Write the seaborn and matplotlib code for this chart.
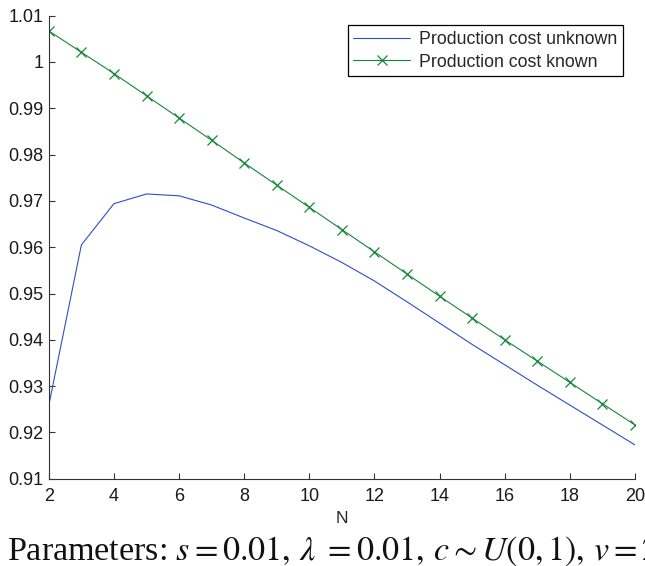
import matplotlib
matplotlib.use("Agg")
import matplotlib.pyplot as plt
import pandas as pd
import seaborn as sns

# Number of firms
N = list(range(2, 21))

# Ratio of expected welfare for the two information regimes
cost_unknown = [0.9259, 0.9605, 0.9694, 0.9715, 0.9711, 0.9691, 0.9663, 0.9636,
                0.9603, 0.9567, 0.9527, 0.9482, 0.9436, 0.9390, 0.9346, 0.9302,
                0.9259, 0.9216, 0.9173]
cost_known = [1.0067, 1.0021, 0.9975, 0.9927, 0.9879, 0.9831, 0.9782, 0.9734,
              0.9686, 0.9638, 0.9590, 0.9542, 0.9494, 0.9447, 0.9400, 0.9354,
              0.9308, 0.9262, 0.9216]

series_labels = ["Production cost unknown", "Production cost known"]
x_ticks = [2, 4, 6, 8, 10, 12, 14, 16, 18, 20]
y_ticks = [0.91, 0.92, 0.93, 0.94, 0.95, 0.96, 0.97, 0.98, 0.99, 1.00, 1.01]
y_tick_labels = ["0.91", "0.92", "0.93", "0.94", "0.95", "0.96", "0.97",
                 "0.98", "0.99", "1", "1.01"]
x_label = "N"
caption = r"Parameters: $s = 0.01,\, \lambda\ = 0.01,\, c \sim U(0,1),\, v = 2$"

sns.set_style("ticks")
plt.rcParams["font.family"] = ["Liberation Sans", "DejaVu Sans"]
plt.rcParams["mathtext.fontset"] = "stix"

df = pd.DataFrame({"N": N, "unknown": cost_unknown, "known": cost_known})

blue = "#2f4fc4"
green = "#16873a"

fig = plt.figure(figsize=(6.45, 5.66), dpi=100)
ax = fig.add_axes([0.0757, 0.1542, 0.9088, 0.8181])

sns.lineplot(data=df, x="N", y="unknown", ax=ax, color=blue,
             linewidth=0.8, label=series_labels[0])
sns.lineplot(data=df, x="N", y="known", ax=ax, color=green,
             linewidth=0.8, marker="x", markersize=6.5, markeredgewidth=0.9,
             markeredgecolor=green, markerfacecolor=green,
             label=series_labels[1])

ax.set_xlim(2, 20)
ax.set_ylim(0.91, 1.01)
ax.set_xticks(x_ticks)
ax.set_xticklabels([str(t) for t in x_ticks])
ax.set_yticks(y_ticks)
ax.set_yticklabels(y_tick_labels)
ax.set_xlabel(x_label, fontsize=12.5, labelpad=4)
ax.set_ylabel("")

for side in ("top", "right"):
    ax.spines[side].set_visible(False)
for side in ("left", "bottom"):
    ax.spines[side].set_color("#333333")
    ax.spines[side].set_linewidth(0.8)
ax.tick_params(axis="both", direction="in", length=4, width=0.8,
               color="#333333", labelsize=13, labelcolor="#1a1a1a")
ax.tick_params(axis="x", pad=7)
ax.tick_params(axis="y", pad=4)
ax.set_facecolor("white")

leg = ax.legend(loc="upper right", bbox_to_anchor=(623.3 / 645, 1 - 25 / 566),
                bbox_transform=fig.transFigure, borderaxespad=0,
                fontsize=12.8, frameon=True, fancybox=False, framealpha=1,
                edgecolor="black", handlelength=3.2, handletextpad=0.5,
                borderpad=0.33, labelspacing=0.32)
leg.get_frame().set_linewidth(0.9)

fig.text(7 / 645, 0.0106, caption, fontsize=24.5, color="#111111",
         family=["Liberation Serif", "DejaVu Serif"],
         ha="left", va="baseline")

fig.savefig("out.png", dpi=100)
